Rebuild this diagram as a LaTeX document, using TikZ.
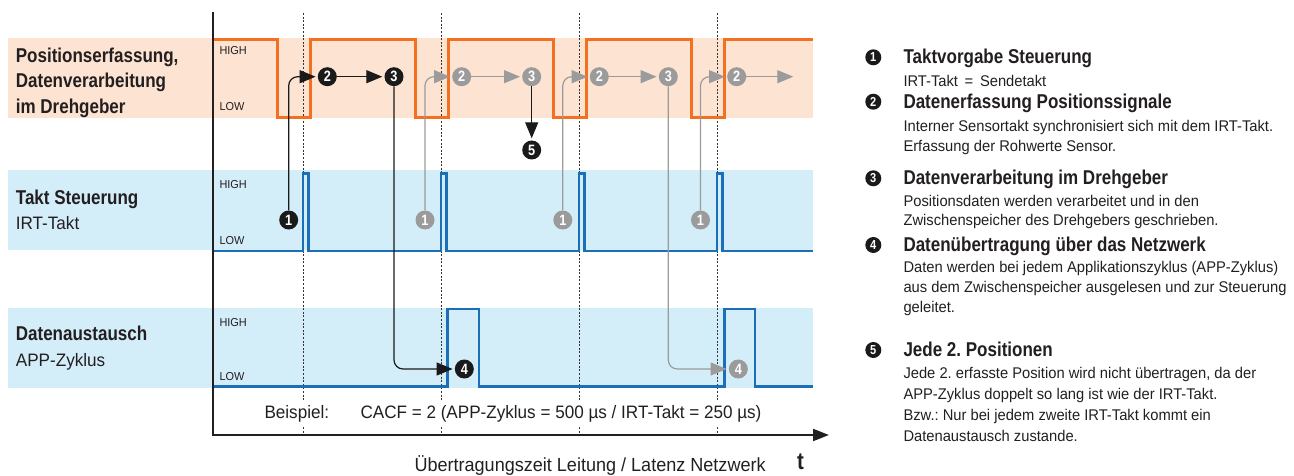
\documentclass[tikz,border=0pt]{standalone}
\usepackage{fontspec}
\setmainfont{Liberation Sans}[FakeStretch=0.95]
\newfontfamily\boldf{Liberation Sans}[FakeStretch=0.85]
\usetikzlibrary{arrows.meta}
\definecolor{orC}{HTML}{F37021}
\definecolor{orBand}{HTML}{FDE3D1}
\definecolor{blC}{HTML}{1B6FB8}
\definecolor{blBand}{HTML}{D3EDF9}
\definecolor{grC}{HTML}{9B9B9B}
\definecolor{kC}{HTML}{1A1A1A}
\definecolor{txC}{HTML}{231F20}
\definecolor{dashC}{HTML}{333333}
\newcommand\fsz[1]{\fontsize{#1}{#1}\selectfont}
\frenchspacing
\begin{document}
\begin{tikzpicture}[x=1pt,y=-1pt,
  orsig/.style={draw=orC, line width=2.5pt, line join=miter},
  blsig/.style={draw=blC, line width=2.5pt, line join=miter},
  dashv/.style={draw=dashC, line width=0.7pt, dash pattern=on 2pt off 1.6pt},
  axisline/.style={draw=txC, line width=2pt, -{Triangle[length=16pt,width=12pt]}},
  numK/.style={circle, fill=kC, text=white, inner sep=0pt, minimum size=19pt, font=\boldf\bfseries\fsz{15}},
  numG/.style={numK, fill=grC},
  legnum/.style={numK, minimum size=16pt, font=\boldf\bfseries\fsz{13}},
  conK/.style={draw=kC, line width=1.2pt, -{Triangle[length=16pt,width=13pt]}, shorten >=2pt, rounded corners=9pt},
  conG/.style={conK, draw=grC},
  tx/.style={inner sep=0pt, anchor=base west, text=txC},
  lblB/.style={tx, font=\boldf\bfseries\fsz{20}},
  lblR/.style={tx, font=\fsz{18}},
  hl/.style={tx, font=\fsz{11.5}},
  legT/.style={tx, font=\boldf\bfseries\fsz{20}},
  legB/.style={tx, font=\fsz{15.5}},
]
\useasboundingbox (0,0) rectangle (1294,476);

% bands
\fill[orBand] (8.3,37.7) rectangle (812.7,118.3);
\fill[blBand] (8.3,170) rectangle (812.7,250);
\fill[blBand] (8.3,308.3) rectangle (812.7,388.3);

% dashed time markers
\foreach \x in {303,441,579,717} \draw[dashv] (\x,13) -- (\x,435);

% orange signal
\draw[orsig] (213,39.3) -- (277.7,39.3) -- (277.7,117.3) -- (310.7,117.3) -- (310.7,39.3)
  -- (415.7,39.3) -- (415.7,117.3) -- (448.7,117.3) -- (448.7,39.3)
  -- (553.7,39.3) -- (553.7,117.3) -- (586.7,117.3) -- (586.7,39.3)
  -- (691.7,39.3) -- (691.7,117.3) -- (724.7,117.3) -- (724.7,39.3) -- (812.7,39.3);

% blue clock signal
\draw[blsig] (213,251) -- (303,251) -- (303,173.5) -- (308.7,173.5) -- (308.7,251)
  -- (441,251) -- (441,173.5) -- (446.7,173.5) -- (446.7,251)
  -- (579,251) -- (579,173.5) -- (584.7,173.5) -- (584.7,251)
  -- (717,251) -- (717,173.5) -- (722.7,173.5) -- (722.7,251) -- (812.7,251);

% blue APP signal
\draw[blsig] (213,386.7) -- (447.7,386.7) -- (447.7,309) -- (479,309) -- (479,386.7)
  -- (724.3,386.7) -- (724.3,309) -- (755,309) -- (755,386.7) -- (812.7,386.7);

% axes
\draw[axisline] (213,12) -- (213,435) -- (829,435);

% HIGH / LOW labels
\node[hl] (h1) at (219.3,54.8) {HIGH};
\node[hl] (w1) at (219.3,110.8) {LOW};
\node[hl] (h2) at (219.3,188.1) {HIGH};
\node[hl] (w2) at (219.3,244.1) {LOW};
\node[hl] (h3) at (219.3,326.1) {HIGH};
\node[hl] (w3) at (219.3,380.1) {LOW};

% left labels
\node[lblB] (lp1) at (15.7,62.6) {Positionserfassung,};
\node[lblB] (lp2) at (15.7,88) {Datenverarbeitung};
\node[lblB] (lp3) at (15.7,113.8) {im Drehgeber};
\node[lblB] (lt1) at (15.7,204.5) {Takt Steuerung};
\node[lblR] (lt2) at (15.7,229.2) {IRT-Takt};
\node[lblB] (ld1) at (15.7,340.9) {Datenaustausch};
\node[lblR] (ld2) at (15.7,366.7) {APP-Zyklus};

% circles
\node[numK] (c1) at (288.7,220) {1};
\node[numK] (c2) at (327.3,76.7) {2};
\node[numK] (c3) at (394,76.7) {3};
\node[numK] (c4) at (464.3,369) {4};
\node[numK] (c5) at (531.7,150) {5};
\node[numG] (g1a) at (425,220) {1};
\node[numG] (g2a) at (461.7,76.7) {2};
\node[numG] (g3a) at (531.7,76.7) {3};
\node[numG] (g1b) at (562.8,220) {1};
\node[numG] (g2b) at (599.3,76.7) {2};
\node[numG] (g3b) at (668.3,76.7) {3};
\node[numG] (g4) at (738.3,369) {4};
\node[numG] (g1c) at (700.5,220) {1};
\node[numG] (g2c) at (736.7,76.7) {2};
\coordinate (gend) at (795.3,76.7);

% connectors
\draw[conK] (c1.north) |- (c2.west);
\draw[conK] (c2.east) -- (c3.west);
\draw[conK] (c3.south) |- (c4.west);
\draw[conG] (g1a.north) |- (g2a.west);
\draw[conG] (g2a.east) -- (g3a.west);
\draw[conK] (g3a.south) -- (c5.north);
\draw[conG] (g1b.north) |- (g2b.west);
\draw[conG] (g2b.east) -- (g3b.west);
\draw[conG] (g3b.south) |- (g4.west);
\draw[conG] (g1c.north) |- (g2c.west);
\draw[conG] (g2c.east) -- (gend);

% bottom texts
\node[tx, font=\fsz{18}, fill=white, inner xsep=1pt, inner ysep=4pt, xshift=1pt] (bsp) at (262.3,418.3) {Beispiel:};
\node[tx, font=\fsz{18}, fill=white, inner xsep=1pt, inner ysep=4pt, xshift=1pt] (cacf) at (358.3,418.3) {CACF = 2 (APP-Zyklus = 500 µs / IRT-Takt = 250 µs)};
\node[tx, font=\fsz{19}] (xlab) at (414.3,471.6) {Übertragungszeit Leitung / Latenz Netzwerk};
\node[tx, anchor=base, font=\boldf\bfseries\fsz{24}] (tlab) at (800.5,469.5) {t};

% legend
\node[legnum] (n1) at (873.3,57.3) {1};
\node[legT] (t1) at (903.3,64) {Taktvorgabe Steuerung};
\node[legB] (b1a) at (903.3,87) {IRT-Takt \,=\, Sendetakt};

\node[legnum] (n2) at (873.3,101.7) {2};
\node[legT] (t2) at (903.3,108.4) {Datenerfassung Positionssignale};
\node[legB] (b2a) at (903.3,131.5) {Interner Sensortakt synchronisiert sich mit dem IRT-Takt.};
\node[legB] (b2b) at (903.3,151.5) {Erfassung der Rohwerte Sensor.};

\node[legnum] (n3) at (873.3,178.3) {3};
\node[legT] (t3) at (903.3,185) {Datenverarbeitung im Drehgeber};
\node[legB] (b3a) at (903.3,206.2) {Positionsdaten werden verarbeitet und in den};
\node[legB] (b3b) at (903.3,225.5) {Zwischenspeicher des Drehgebers geschrieben.};

\node[legnum] (n4) at (873.3,245) {4};
\node[legT] (t4) at (903.3,251.7) {Datenübertragung über das Netzwerk};
\node[legB] (b4a) at (903.3,272.2) {Daten werden bei jedem Applikationszyklus (APP-Zyklus)};
\node[legB] (b4b) at (903.3,292.2) {aus dem Zwischenspeicher ausgelesen und zur Steuerung};
\node[legB] (b4c) at (903.3,312.2) {geleitet.};

\node[legnum] (n5) at (873.3,350) {5};
\node[legT] (t5) at (903.3,356.7) {Jede 2. Positionen};
\node[legB] (b5a) at (903.3,378.8) {Jede 2. erfasste Position wird nicht übertragen, da der};
\node[legB] (b5b) at (903.3,399.3) {APP-Zyklus doppelt so lang ist wie der IRT-Takt.};
\node[legB] (b5c) at (903.3,420.3) {Bzw.: Nur bei jedem zweite IRT-Takt kommt ein};
\node[legB] (b5d) at (903.3,441.3) {Datenaustausch zustande.};
\end{tikzpicture}
\end{document}
